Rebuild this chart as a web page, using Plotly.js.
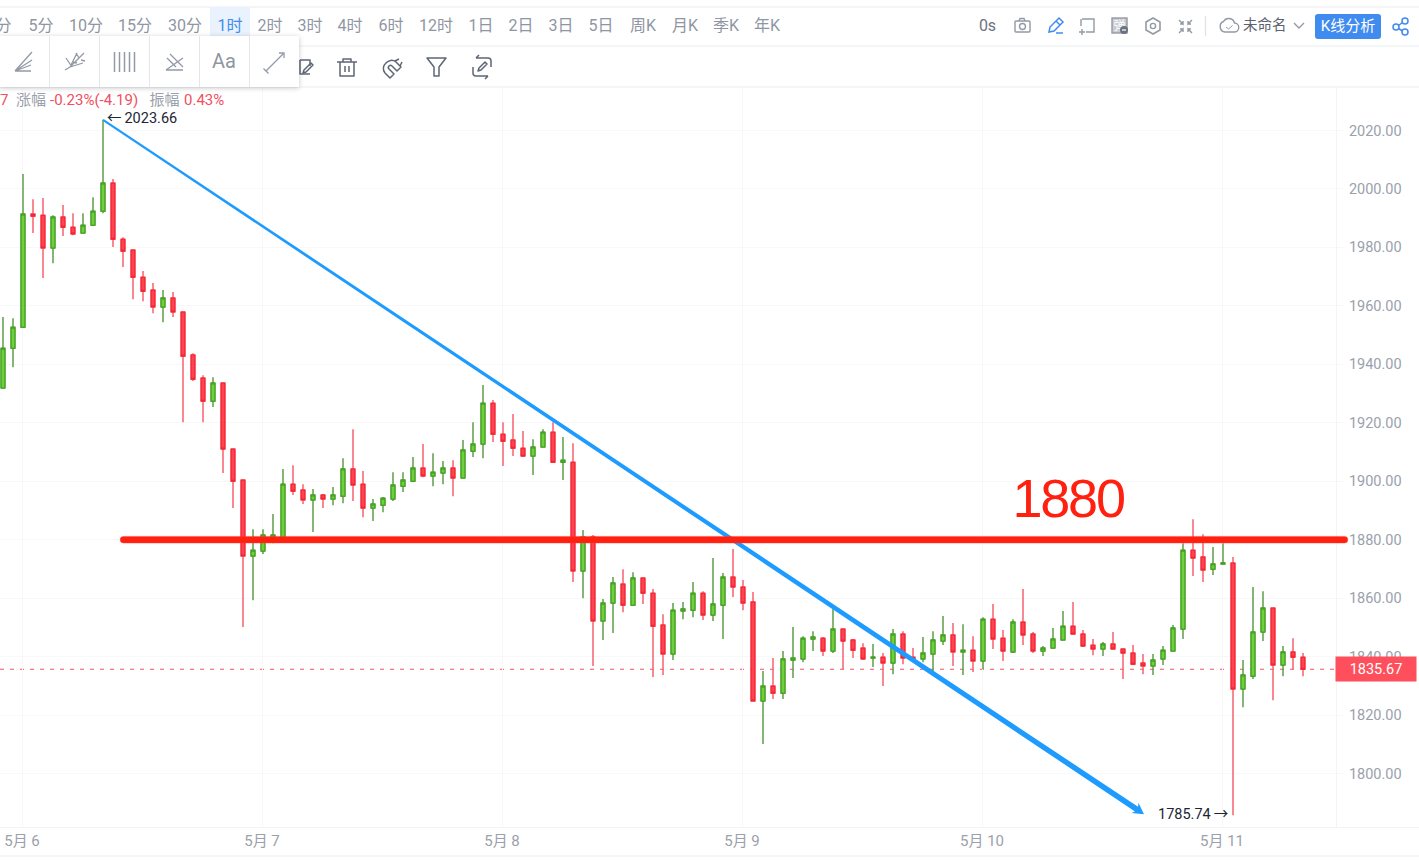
<!DOCTYPE html>
<html><head><meta charset="utf-8">
<script src="https://cdn.plot.ly/plotly-3.0.1.min.js"></script>
<style>
html,body{margin:0;padding:0;background:#fff;width:1419px;height:861px;overflow:hidden;font-family:Roboto,"Noto Sans CJK SC",sans-serif}
#chart{position:absolute;left:0;top:0;width:1419px;height:861px}
#ui{position:absolute;left:0;top:0;width:1419px;height:861px;pointer-events:none;overflow:hidden}
.t{position:absolute;white-space:nowrap;line-height:20px}
.hl{position:absolute;left:0;width:1419px;height:2px;background:#f4f5f7}
#panel{position:absolute;left:-1px;top:36px;width:300px;height:51px;background:#fff;box-shadow:0 1px 5px rgba(0,0,0,.22)}
svg{position:absolute;left:0;top:0;overflow:visible}
.annotation[data-index="2"] text{letter-spacing:-2.2px}
</style></head><body>
<div id="chart"></div>
<div id="ui"></div>
<script>
const dayTicks=[2,26,50,74,98,122];
const dayLabels=['5月 6','5月 7','5月 8','5月 9','5月 10','5月 11'];
const priceTicks=[1800,1820,1840,1860,1880,1900,1920,1940,1960,1980,2000,2020];
const openP=[1931.9,1945.5,1952.7,1991.4,1991.0,1979.8,1990.4,1986.9,1984.9,1987.6,1992.4,2002.0,1982.8,1979.1,1969.8,1965.4,1959.6,1962.7,1957.9,1943.2,
1935.3,1927.4,1933.6,1911.0,1900.4,1874.4,1876.1,1879.9,1879.9,1899.0,1897.0,1893.6,1895.3,1893.9,1894.9,1904.2,1899.0,1890.8,1891.8,1893.9,
1898.3,1900.0,1904.5,1901.8,1902.8,1904.5,1901.1,1910.3,1912.7,1926.7,1916.1,1914.1,1911.3,1908.6,1911.7,1916.8,1906.5,1906.5,1869.3,1880.9,
1852.2,1858.3,1864.8,1857.6,1866.9,1861.7,1850.8,1840.9,1855.6,1855.9,1861.7,1854.2,1857.6,1867.2,1863.8,1858.7,1824.8,1829.9,1827.5,1838.8,
1839.2,1846.0,1846.3,1841.9,1849.4,1845.7,1842.9,1839.5,1839.8,1837.8,1847.7,1839.8,1839.2,1840.9,1845.3,1847.4,1841.6,1842.2,1838.5,1852.8,
1846.3,1841.6,1851.8,1847.7,1841.9,1842.9,1845.7,1850.4,1847.7,1843.9,1842.6,1844.3,1842.6,1841.2,1837.8,1836.8,1839.2,1841.9,1849.4,1876.4,
1874.1,1869.9,1871.7,1872.0,1828.9,1833.3,1848.4,1856.6,1837.1,1841.6,1839.8];
const highP=[1956.2,1955.8,2005.1,1996.5,1996.9,1991.0,1994.5,1991.7,1991.7,1997.2,2023.66,2003.4,1983.5,1979.4,1971.9,1967.8,1965.4,1964.7,1957.9,1943.8,
1936.3,1935.6,1933.9,1911.0,1900.4,1883.6,1883.6,1888.8,1904.2,1905.5,1899.0,1897.3,1895.6,1898.0,1907.9,1917.8,1903.5,1893.9,1894.6,1903.1,
1903.1,1908.3,1912.7,1909.6,1906.9,1907.2,1914.1,1920.2,1932.9,1927.8,1920.2,1923.0,1917.2,1914.4,1917.8,1920.2,1915.1,1913.0,1883.3,1881.6,
1859.7,1867.2,1869.9,1868.9,1866.9,1863.1,1854.5,1858.3,1858.7,1865.5,1862.4,1873.7,1868.6,1876.8,1866.2,1862.1,1835.1,1839.5,1841.9,1850.1,
1847.0,1848.7,1846.7,1856.3,1849.4,1846.0,1844.6,1844.3,1841.2,1849.4,1848.7,1842.9,1846.7,1848.7,1853.9,1851.5,1851.1,1847.0,1853.5,1858.0,
1849.1,1852.8,1863.1,1848.4,1843.6,1849.8,1855.6,1858.7,1849.1,1846.0,1845.0,1848.4,1842.6,1844.0,1840.9,1840.9,1843.6,1850.8,1878.8,1887.0,
1881.9,1877.5,1878.8,1874.1,1838.8,1863.8,1862.4,1856.9,1843.6,1846.3,1841.2];
const lowP=[1931.9,1939.0,1952.7,1984.9,1969.5,1974.6,1983.9,1984.2,1984.9,1987.3,1991.7,1980.1,1973.3,1962.3,1961.6,1957.5,1954.4,1956.2,1920.2,1934.3,
1920.2,1925.4,1902.8,1890.8,1850.1,1859.3,1875.1,1878.8,1879.9,1895.3,1892.2,1882.6,1890.8,1891.8,1892.5,1893.2,1887.7,1886.4,1889.4,1893.2,
1896.3,1900.0,1901.4,1898.3,1899.0,1894.9,1901.1,1908.3,1907.9,1913.4,1905.2,1908.6,1908.3,1902.1,1911.7,1906.5,1900.4,1865.5,1860.0,1836.8,
1845.7,1848.1,1855.2,1857.3,1858.0,1833.0,1833.7,1838.8,1852.8,1853.5,1852.5,1852.2,1846.0,1860.4,1855.9,1824.8,1810.1,1825.5,1825.5,1832.7,
1838.1,1841.9,1840.2,1841.2,1835.7,1839.5,1838.8,1836.4,1829.9,1834.0,1837.4,1838.8,1838.1,1834.7,1844.0,1836.8,1833.7,1834.7,1835.7,1842.6,
1838.5,1841.2,1844.0,1841.2,1840.2,1842.9,1845.7,1847.7,1843.3,1840.5,1840.2,1842.6,1832.3,1837.1,1834.0,1833.7,1837.1,1841.9,1846.0,1867.6,
1865.5,1867.9,1871.7,1785.74,1822.7,1832.3,1845.3,1825.1,1833.3,1835.7,1833.3];
const closeP=[1945.5,1952.7,1991.4,1990.7,1979.8,1990.4,1986.9,1984.6,1987.6,1992.4,2002.0,1982.8,1978.7,1969.8,1965.0,1959.6,1962.7,1957.9,1942.8,1934.9,
1927.4,1933.6,1911.0,1900.0,1874.4,1876.4,1881.6,1881.6,1899.0,1896.6,1893.6,1895.3,1893.9,1895.3,1904.2,1898.7,1890.8,1892.2,1894.2,1898.7,
1900.4,1904.5,1901.8,1903.1,1904.5,1901.1,1910.7,1912.7,1926.7,1916.1,1913.7,1911.3,1908.6,1911.7,1916.8,1906.5,1907.2,1869.3,1880.9,1852.2,
1858.3,1865.2,1857.6,1866.9,1861.7,1850.4,1840.9,1855.9,1856.3,1861.7,1854.2,1858.0,1867.2,1863.8,1858.3,1824.8,1829.9,1827.5,1839.2,1839.5,
1846.3,1846.7,1841.9,1849.4,1845.3,1842.2,1839.2,1839.8,1837.8,1847.7,1839.5,1838.8,1841.2,1845.7,1847.4,1841.6,1842.2,1838.5,1852.8,1846.0,
1841.9,1851.8,1847.4,1841.9,1842.9,1846.0,1850.4,1847.7,1843.6,1842.6,1844.3,1842.6,1841.2,1837.4,1836.8,1838.8,1842.2,1849.8,1876.4,1873.7,
1869.6,1871.7,1872.0,1828.9,1833.7,1848.4,1856.6,1837.1,1841.6,1839.8,1835.67];
const lastPrice=1835.67, highPrice=2023.66, lowPrice=1785.74, levelPrice=1880;

const idx=openP.map((_,i)=>i);
const xMin=-0.3,xMax=133.3,yMin=1781.7,yMax=2034.88;
const pxX=1336/(xMax-xMin), pxY=740/(yMax-yMin);
const FONT='Roboto, "Noto Sans CJK SC", sans-serif';
const GRID='#f8f8f9', LBL='#9aa1ab';

const wicks={type:'candlestick',x:idx,open:openP,high:highP,low:lowP,close:closeP,hoverinfo:'skip',showlegend:false,whiskerwidth:0,
  increasing:{line:{color:'#5f9e4a',width:1.5},fillcolor:'#6fcf3c'},decreasing:{line:{color:'#f9626f',width:1.5},fillcolor:'#ff4350'}};
const bodies={type:'candlestick',x:idx,open:openP,close:closeP,high:openP.map((o,i)=>Math.max(o,closeP[i])),low:openP.map((o,i)=>Math.min(o,closeP[i])),hoverinfo:'skip',showlegend:false,whiskerwidth:0,
  increasing:{line:{color:'#3aa015',width:1},fillcolor:'#6fcf3c'},decreasing:{line:{color:'#f0212f',width:1},fillcolor:'#ff4350'}};

const tipI=114.1,tipV=1786.1;
const ddx=(tipI-10)*pxX, ddy=(highPrice-tipV)*pxY, L=Math.hypot(ddx,ddy), ux=ddx/L, uy=ddy/L;
const P=(a,o)=>{const X=a*ux-o*uy,Y=a*uy+o*ux;return (10+X/pxX).toFixed(3)+','+(highPrice-Y/pxY).toFixed(3);};
const bluePath='M'+P(0,-1.05)+' L'+P(L-9,-2.8)+' L'+P(L-11,-6.5)+' L'+P(L,0)+' L'+P(L-11,6)+' L'+P(L-9,2.8)+' L'+P(0,1.05)+' Z';

const xp=px=>px/1336;
const h=3.3/pxY, x0=xp(123.5), x1=xp(1344.5), r=xp(3.3);
const redPath=`M${x0},${levelPrice+h} L${x1},${levelPrice+h} Q${x1+r},${levelPrice+h} ${x1+r},${levelPrice} Q${x1+r},${levelPrice-h} ${x1},${levelPrice-h} L${x0},${levelPrice-h} Q${x0-r},${levelPrice-h} ${x0-r},${levelPrice} Q${x0-r},${levelPrice+h} ${x0},${levelPrice+h} Z`;

const layout={width:1419,height:861,margin:{l:0,r:83,t:87,b:34},paper_bgcolor:'#fff',plot_bgcolor:'#fff',showlegend:false,boxmode:'overlay',boxgap:0.45,
  font:{family:FONT},
  xaxis:{type:'linear',range:[xMin,xMax],rangeslider:{visible:false},tickmode:'array',tickvals:dayTicks.map(v=>v-0.1),ticktext:dayLabels,showgrid:true,gridcolor:GRID,gridwidth:1,
    zeroline:false,ticks:'',tickfont:{size:15,color:LBL,family:FONT},showline:true,linecolor:'#f3f4f6',linewidth:1,ticklabelstandoff:0,fixedrange:true},
  yaxis:{side:'right',range:[yMin,yMax],tickmode:'array',tickvals:priceTicks,ticktext:priceTicks.map(v=>v.toFixed(2)),showgrid:true,gridcolor:GRID,gridwidth:1,zeroline:false,
    ticks:'outside',ticklen:7,tickcolor:GRID,tickfont:{size:14.5,color:LBL,family:FONT},ticklabelstandoff:2,showline:true,linecolor:'#f3f4f6',linewidth:1,fixedrange:true},
  shapes:[
    {type:'line',xref:'paper',yref:'y',x0:0,x1:1,y0:lastPrice,y1:lastPrice,layer:'below',line:{color:'#f25060',width:1,dash:'4px,6px'}},
    {type:'path',xref:'x',yref:'y',path:bluePath,fillcolor:'#1e9bff',line:{width:0},layer:'above'},
    {type:'path',xref:'paper',yref:'y',path:redPath,fillcolor:'#ff2010',line:{color:'rgba(255,60,50,.45)',width:1},layer:'above'}
  ],
  annotations:[
    {xref:'x',yref:'y',x:10.2,y:highPrice+0.6,xanchor:'left',yanchor:'middle',showarrow:false,text:'←\u2009'+highPrice.toFixed(2),font:{size:14.5,color:'#1c2636',family:FONT}},
    {xref:'x',yref:'y',x:122.7,y:lowPrice+0.4,xanchor:'right',yanchor:'middle',showarrow:false,text:lowPrice.toFixed(2)+'\u2009→',font:{size:14.5,color:'#1c2636',family:FONT}},
    {xref:'x',yref:'y',x:106.5,y:levelPrice+14.2,xanchor:'center',yanchor:'middle',showarrow:false,text:String(levelPrice),font:{size:54,color:'#ff2010',family:'"Liberation Sans", Arial, sans-serif'}},
    {xref:'paper',yref:'y',x:1376/1336,y:lastPrice,xanchor:'center',yanchor:'middle',showarrow:false,text:lastPrice.toFixed(2),width:80,height:24,bgcolor:'#ff4f5c',borderpad:0,font:{size:14.5,color:'#fff',family:FONT}}
  ]};
Plotly.newPlot('chart',[wicks,bodies],layout,{displayModeBar:false,staticPlot:true});

const ui=document.getElementById('ui');
function txt(s,cx,cy,size,color,parent){const e=document.createElement('div');e.className='t';e.textContent=s;e.style.fontSize=size+'px';e.style.color=color;e.style.left=cx+'px';e.style.top=(cy-10)+'px';e.style.transform='translateX(-50%)';(parent||ui).appendChild(e);return e;}
function txtL(s,x,cy,size,color){const e=txt(s,x,cy,size,color);e.style.transform='none';return e;}
[6,45,86,855].forEach(y=>{const d=document.createElement('div');d.className='hl';d.style.top=y+'px';ui.appendChild(d);});
const bl=document.createElement('div');bl.style.cssText='position:absolute;left:1336px;top:827px;width:83px;height:1px;background:#f3f4f6';ui.appendChild(bl);
const sel=document.createElement('div');sel.style.cssText='position:absolute;left:210px;top:7px;width:40px;height:38px;background:#e9f2fd';ui.appendChild(sel);
const tabs=['1分','5分','10分','15分','30分','1时','2时','3时','4时','6时','12时','1日','2日','3日','5日','周K','月K','季K','年K'];
const tabCx=[-1,41,86,135,185,230,270,310,350,391,436,481,521,561,601,643,685,726,767];
tabs.forEach((s,i)=>txt(s,tabCx[i],25.5,16,i===5?'#3f8ef0':'#8f96a3'));
txt('0s',987.5,26,16,'#6b7280');
txtL('未命名',1243,26,14.5,'#5b6270');
const kb=document.createElement('div');kb.textContent='K线分析';kb.style.cssText='position:absolute;left:1315px;top:14px;width:66px;height:25px;line-height:25px;border-radius:3px;background:#3f8bef;color:#fff;font-size:15px;text-align:center;white-space:nowrap';ui.appendChild(kb);
txtL('7',0,100,15,'#f0505f');txtL('涨幅',16,100,15,'#9aa1ab');txtL('-0.23%(-4.19)',50,100,15,'#f0505f');txtL('振幅',149.5,100,15,'#9aa1ab');txtL('0.43%',184,100,15,'#f0505f');

const G='#939aa6', D='#5d6675', B='#3f8bef';
const svgNS='http://www.w3.org/2000/svg';
const icons=`
<g fill="none" stroke="${G}" stroke-width="1.4">
 <rect x="1015" y="21" width="15" height="11" rx="1"/><path d="M1019 21l1-2.5h4l1 2.5"/><circle cx="1022.5" cy="26.5" r="3"/>
 <path d="M1082 19h12v13h-8M1081 19v7" /><path d="M1079 32h6M1082 29v6"/>
 <rect x="1112" y="18" width="15" height="15" fill="#c9ccd2" stroke="${G}"/>
 <path d="M1153 18l7 4v8l-7 4-7-4v-8z" stroke-width="1.6"/><circle cx="1153" cy="26" r="2.6"/>
 <path d="M1179 20l4 4v-3M1183 24h-3M1192 20l-4 4v-3M1188 24h3M1179 33l4-4v3M1183 29h-3M1192 33l-4-4v3M1188 29h3"/>
 <path d="M1205.5 16v20" stroke="#e2e4e8"/>
 <path d="M1225 32h9a4.500 4.500 0 0 0 .5-9a6 6 0 0 0-11-1.500a5.500 5.500 0 0 0 1.500 10.500z"/><path d="M1226 27l2.500 2 4-3.500" stroke-width="1"/>
 <path d="M1294 23l5 5 5-5"/>
</g>
<text x="1119.500" y="29.500" text-anchor="middle" font-size="12" fill="#fff">弹</text>
<circle cx="1124" cy="30" r="4" fill="#6b7280"/><path d="M1122 30h4" stroke="#fff" stroke-width="1.200"/>
<g fill="none" stroke="${B}" stroke-width="1.5">
 <path d="M1049 32l1-5 9-9 4 4-9 9zM1056 21l4 4"/><path d="M1056 33h7"/>
 <circle cx="1405" cy="21" r="3"/><circle cx="1405" cy="32" r="3"/><circle cx="1396" cy="27" r="3"/><path d="M1398.500 25.500l4-3M1398.500 28.500l4 2.500"/>
</g>
<g fill="none" stroke="${D}" stroke-width="1.5" stroke-linejoin="round">
 <path d="M300 60h10v6M310 74h-10v-14"/><path d="M303 73l1-3 7-7 2 2-7 7z"/>
 <path d="M337 62h20M343 62v-3h8v3M340 62v14h14v-14M345 66v6M349 66v6"/>
 <path d="M386 63a7 7 0 0 1 10-1l5 5-4 4-5-5a1.500 1.500 0 0 0-3 3l5 5-4 4-5-5a7 7 0 0 1 1-10zM395 61l4-2M400 66l2-4"/>
 <path d="M427 58h19l-7 9v9h-5v-9z"/>
 <path d="M476 58h12a3 3 0 0 1 3 3v6M476 58l3-3M488 76h-12a3 3 0 0 1-3-3v-6M488 76l-3 3"/><path d="M478 71l1-3 6-6 2 2-6 6z"/>
</g>`;
const s1=document.createElementNS(svgNS,'svg');s1.setAttribute('width','1419');s1.setAttribute('height','861');s1.innerHTML=icons;ui.appendChild(s1);
const panel=document.createElement('div');panel.id='panel';ui.appendChild(panel);
const P2=`
<g fill="none" stroke="#e4e6e9" stroke-width="1"><path d="M49.5 36v51M99.5 36v51M149.5 36v51M199.5 36v51M249.5 36v51"/></g>
<g fill="none" stroke="${G}" stroke-width="1.3">
 <path d="M15 71l17-19M15 71l16-6M15 71l17-11M15 71h16"/>
 <path d="M70 67l14-14M70 67l13-4M70 67l7-14M65 70l5-3M66 58l6 9M76 53l3 5M81 60l4 1M73 62l4 1"/>
 <path d="M114.500 52v20M119.500 52v20M124.500 52v20M129.500 52v20M134.500 52v20" stroke-width="1.500"/>
 <path d="M166 70h17M166 70l17-12M167 58l9 9M170 54l13 13"/>
 <path d="M266 71l17-17M279 53h5v5M263.500 68.500l5 5"/>
</g>`;
const s2=document.createElementNS(svgNS,'svg');s2.setAttribute('width','1419');s2.setAttribute('height','861');s2.innerHTML=P2;ui.appendChild(s2);
txt('Aa',224,61,20,'#8f96a3');
</script>
</body></html>
